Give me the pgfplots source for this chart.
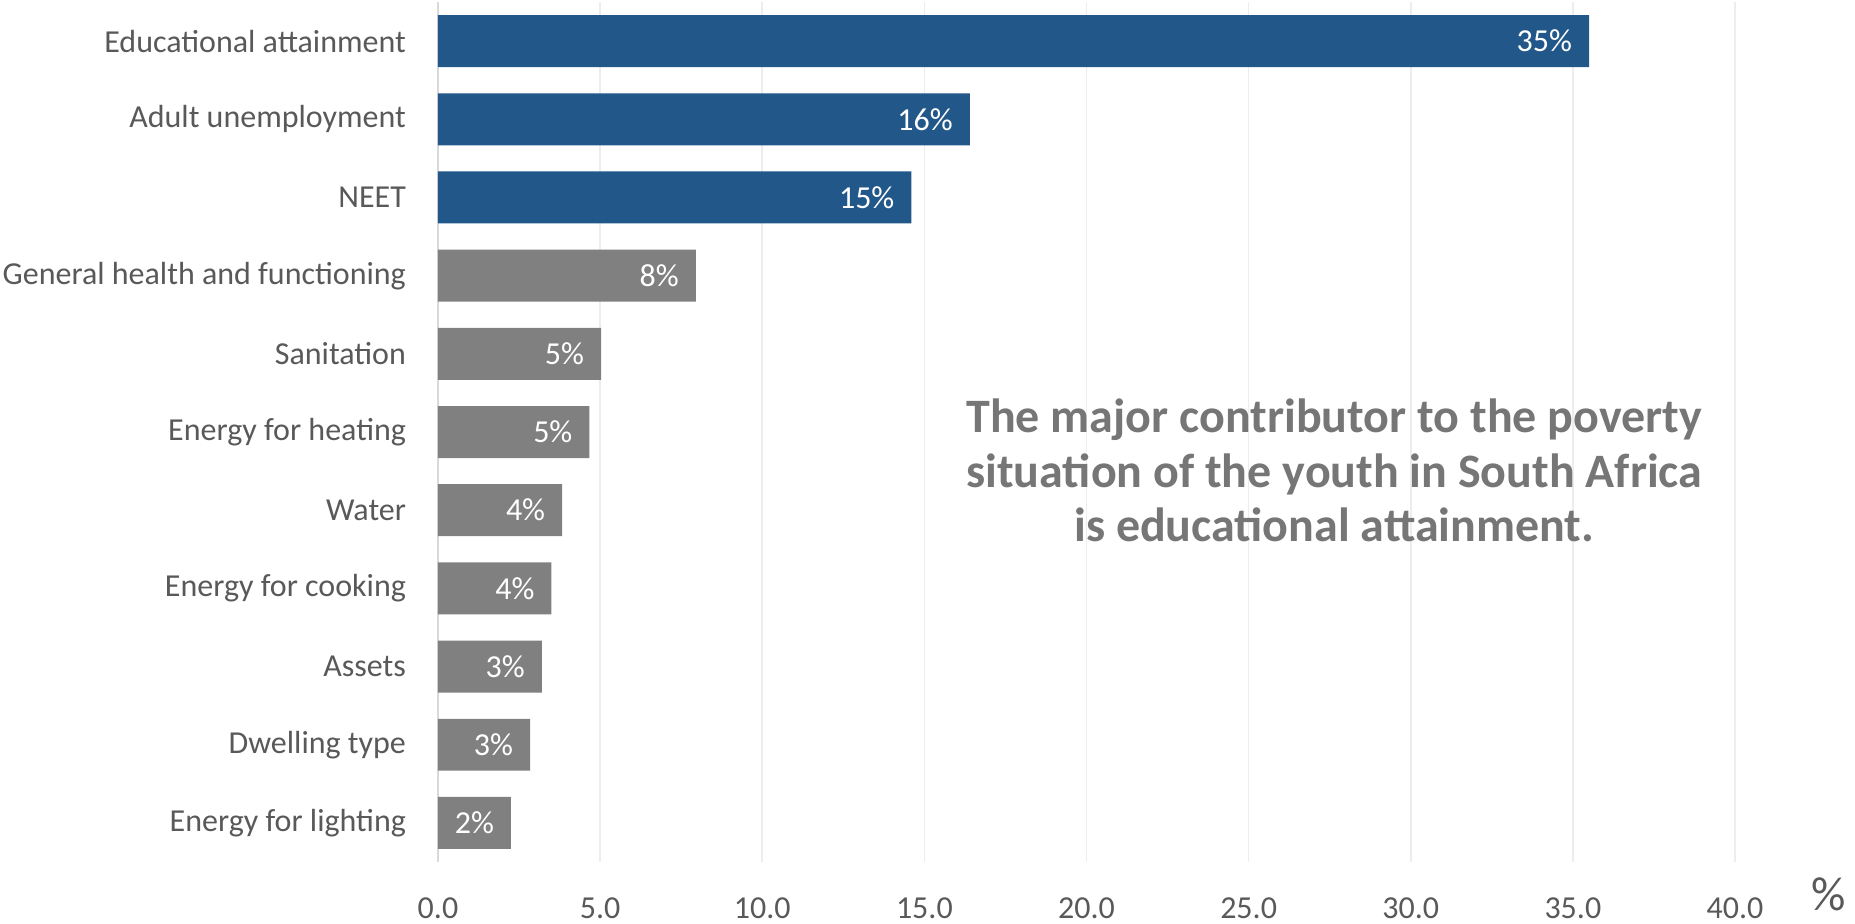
\documentclass[border=0pt]{standalone}
\usepackage{pgfplots}
\pgfplotsset{compat=1.18}
\usepackage{pgfplotstable}
\usepackage{fontspec}
\setmainfont{Carlito}
\definecolor{barblue}{HTML}{22578A}
\definecolor{bargray}{HTML}{808080}
\definecolor{txtgray}{HTML}{595959}
\definecolor{anngray}{HTML}{767676}
\definecolor{gridgray}{HTML}{EDEDED}
\definecolor{axgray}{HTML}{D9D9D9}
\pgfplotstableread{
x y lab
35.5 0 35\%
16.4 1 16\%
14.6 2 15\%
}\bluedata
\pgfplotstableread{
x y lab
7.95 3 8\%
5.03 4 5\%
4.67 5 5\%
3.83 6 4\%
3.50 7 4\%
3.20 8 3\%
2.84 9 3\%
2.25 10 2\%
}\graydata
\begin{document}
\begin{tikzpicture}
\begin{axis}[
  scale only axis, width=648.5pt, height=430pt,
  xbar, bar shift=0pt, bar width=0.665,
  xmin=0, xmax=40, ymin=-0.5, ymax=10.5, y dir=reverse,
  xtick={0,5,...,40},
  xticklabel={\pgfmathprintnumber[fixed,fixed zerofill,precision=1]{\tick}},
  /pgf/number format/assume math mode=true,
  ytick={0,...,10},
  yticklabels={Educational attainment,Adult unemployment,NEET,General health and functioning,Sanitation,Energy for heating,Water,Energy for cooking,Assets,Dwelling type,Energy for lighting},
  major tick length=0pt,
  axis line style={draw=none},
  xmajorgrids, grid style={gridgray, line width=0.8pt},
  extra x ticks={0}, extra x tick labels={},
  extra x tick style={grid style={axgray, line width=1.2pt}},
  tick label style={font=\fontsize{16}{19}\selectfont, text=txtgray},
  yticklabel style={anchor=east, xshift=-12.5pt},
  xticklabel style={anchor=center, yshift=-23pt},
  xlabel={\%},
  xlabel style={at={(axis description cs:1.072,-0.037)}, anchor=center, font=\fontsize{24}{26}\selectfont, text=txtgray},
  nodes near coords,
  point meta=explicit symbolic,
  every node near coord/.append style={anchor=east, xshift=-5pt, text=white, font=\fontsize{16}{19}\selectfont},
]
\addplot[fill=barblue, draw=none] table[x=x, y=y, meta=lab] {\bluedata};
\addplot[fill=bargray, draw=none] table[x=x, y=y, meta=lab] {\graydata};
\node[align=center, text=anngray, font=\bfseries\fontsize{24}{27.2}\selectfont] at (axis description cs:0.691,0.455) {The major contributor to the poverty\\situation of the youth in South Africa\\is educational attainment.};
\end{axis}
\pgfresetboundingbox
\path (-219pt,-30.5pt) rectangle (708.5pt,431pt);
\end{tikzpicture}
\end{document}
